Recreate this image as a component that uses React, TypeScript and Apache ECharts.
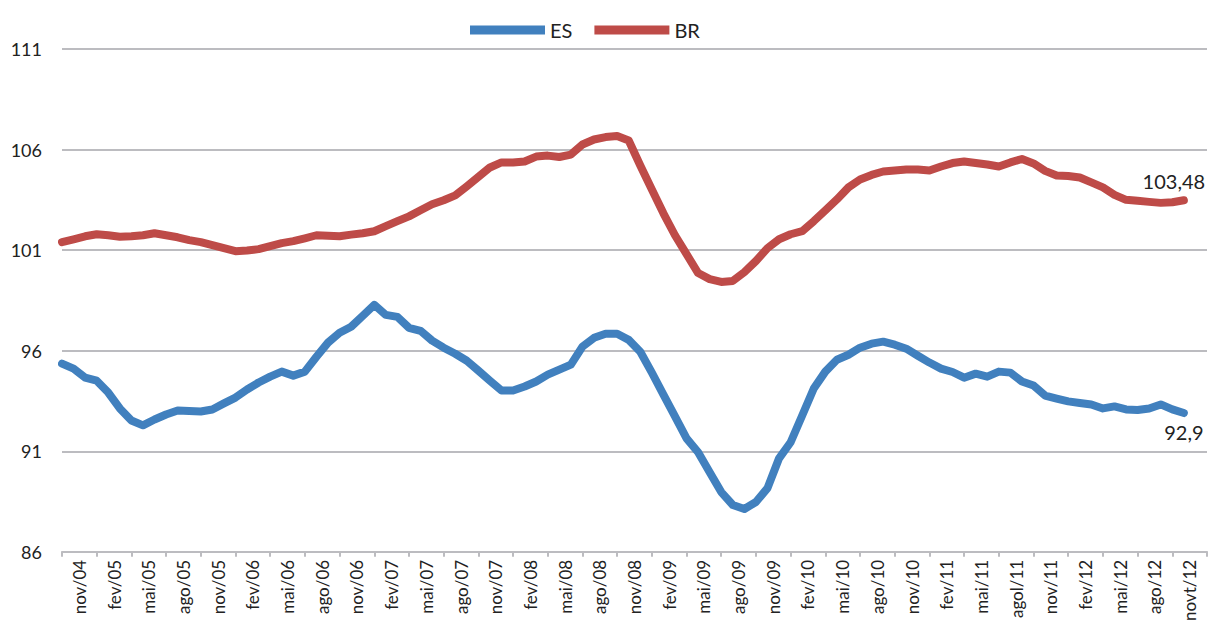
import React, { useEffect, useRef } from "react";
import * as echarts from "echarts";

const tickLabels = [
  "nov/04", "fev/05", "mai/05", "ago/05", "nov/05", "fev/06", "mai/06", "ago/06",
  "nov/06", "fev/07", "mai/07", "ago/07", "nov/07", "fev/08", "mai/08", "ago/08",
  "nov/08", "fev/09", "mai/09", "ago/09", "nov/09", "fev/10", "mai/10", "ago/10",
  "nov/10", "fev/11", "mai/11", "agol/11", "nov/11", "fev/12", "mai/12", "ago/12",
  "novt/12",
];

// monthly values, nov/04 .. dez/12
const esValues = [
  95.36, 95.11, 94.66, 94.51, 93.92, 93.13, 92.53, 92.29, 92.58, 92.83,
  93.03, 93.0, 92.98, 93.08, 93.38, 93.67, 94.07, 94.42, 94.71, 94.96,
  94.76, 94.96, 95.7, 96.4, 96.89, 97.19, 97.73, 98.28, 97.78, 97.68,
  97.14, 96.99, 96.5, 96.15, 95.85, 95.5, 95.01, 94.51, 94.02, 94.02,
  94.22, 94.47, 94.81, 95.06, 95.31, 96.2, 96.64, 96.84, 96.84, 96.54,
  95.95, 94.91, 93.82, 92.73, 91.64, 90.95, 89.96, 88.97, 88.33, 88.13,
  88.48, 89.17, 90.65, 91.45, 92.78, 94.12, 94.96, 95.55, 95.8, 96.15,
  96.35, 96.45, 96.3, 96.1, 95.75, 95.41, 95.11, 94.94, 94.66, 94.86,
  94.71, 94.96, 94.91, 94.47, 94.27, 93.77, 93.62, 93.48, 93.4, 93.33,
  93.13, 93.23, 93.08, 93.05, 93.13, 93.33, 93.08, 92.9,
];

const brValues = [
  101.4, 101.54, 101.69, 101.79, 101.74, 101.67, 101.69, 101.74, 101.84, 101.74,
  101.64, 101.5, 101.4, 101.25, 101.1, 100.95, 100.98, 101.05, 101.2, 101.35,
  101.45, 101.59, 101.74, 101.72, 101.69, 101.77, 101.84, 101.94, 102.19, 102.44,
  102.68, 102.98, 103.28, 103.48, 103.72, 104.17, 104.64, 105.11, 105.36, 105.36,
  105.41, 105.65, 105.7, 105.63, 105.75, 106.25, 106.5, 106.62, 106.67, 106.45,
  105.21, 104.02, 102.83, 101.74, 100.8, 99.86, 99.56, 99.42, 99.47, 99.91,
  100.46, 101.1, 101.54, 101.79, 101.94, 102.44, 102.98, 103.52, 104.12, 104.51,
  104.74, 104.91, 104.96, 105.01, 105.01, 104.96, 105.16, 105.33, 105.41, 105.33,
  105.26, 105.16, 105.36, 105.53, 105.31, 104.94, 104.71, 104.69, 104.61, 104.37,
  104.12, 103.75, 103.5, 103.45, 103.4, 103.35, 103.38, 103.48,
];

const FONT = "Lato, 'Open Sans', sans-serif";
const GRID_COLOR = "#bcbcc0";
const TEXT_COLOR = "#222222";

function lastPointMark(values: number[], labelPos: string, dx: number) {
  const i = values.length - 1;
  const v = values[i];
  return {
    silent: true,
    animation: false,
    symbol: "circle",
    symbolSize: 0.01,
    itemStyle: { color: "rgba(0,0,0,0)" },
    label: {
      show: true,
      position: labelPos,
      distance: 9,
      offset: [dx, 0],
      formatter: String(v).replace(".", ","),
      fontSize: 20,
      fontFamily: FONT,
      color: TEXT_COLOR,
    },
    data: [{ coord: [i, v] }],
  };
}

export default function App() {
  const ref = useRef<HTMLDivElement>(null);

  useEffect(() => {
    document.body.style.margin = "0";
    if (!ref.current) return;
    const chart = echarts.init(ref.current, null, { renderer: "svg" });
    chart.setOption({
      animation: false,
      backgroundColor: "#ffffff",
      textStyle: { fontFamily: FONT },
      legend: {
        left: 465,
        top: 15,
        icon: "rect",
        itemWidth: 75,
        itemHeight: 9,
        itemGap: 22,
        textStyle: { fontSize: 20, color: TEXT_COLOR, fontFamily: FONT },
        data: ["ES", "BR"],
      },
      grid: { left: 62, right: 4, top: 49, bottom: 70 },
      xAxis: [
        {
          type: "value",
          min: 0,
          max: tickLabels.length * 3,
          show: false,
        },
        {
          type: "category",
          data: tickLabels,
          boundaryGap: true,
          position: "bottom",
          axisLine: { show: true, lineStyle: { color: GRID_COLOR, width: 2 } },
          axisTick: { show: true, interval: 0, length: 5, lineStyle: { color: GRID_COLOR, width: 2 } },
          axisLabel: {
            interval: 0,
            rotate: 90,
            margin: 8,
            fontSize: 17,
            color: TEXT_COLOR,
            fontFamily: FONT,
          },
          splitLine: { show: false },
        },
      ],
      yAxis: {
        type: "value",
        min: 86,
        max: 111,
        interval: 5,
        axisLine: { show: false },
        axisTick: { show: false },
        axisLabel: { fontSize: 18, color: TEXT_COLOR, margin: 20, fontFamily: FONT },
        splitLine: { show: true, lineStyle: { color: GRID_COLOR, width: 2 } },
      },
      series: [
        {
          name: "ES",
          type: "line",
          xAxisIndex: 0,
          showSymbol: false,
          symbol: "none",
          color: "#4180be",
          lineStyle: { width: 8, color: "#4180be", cap: "round", join: "round" },
          data: esValues.map((v, i) => [i, v]),
          markPoint: lastPointMark(esValues, "bottom", 0),
        },
        {
          name: "BR",
          type: "line",
          xAxisIndex: 0,
          showSymbol: false,
          symbol: "none",
          color: "#be4b48",
          lineStyle: { width: 8, color: "#be4b48", cap: "round", join: "round" },
          data: brValues.map((v, i) => [i, v]),
          markPoint: lastPointMark(brValues, "top", -10),
        },
      ],
    });
    return () => chart.dispose();
  }, []);

  return <div ref={ref} style={{ width: 1211, height: 624 }} />;
}
